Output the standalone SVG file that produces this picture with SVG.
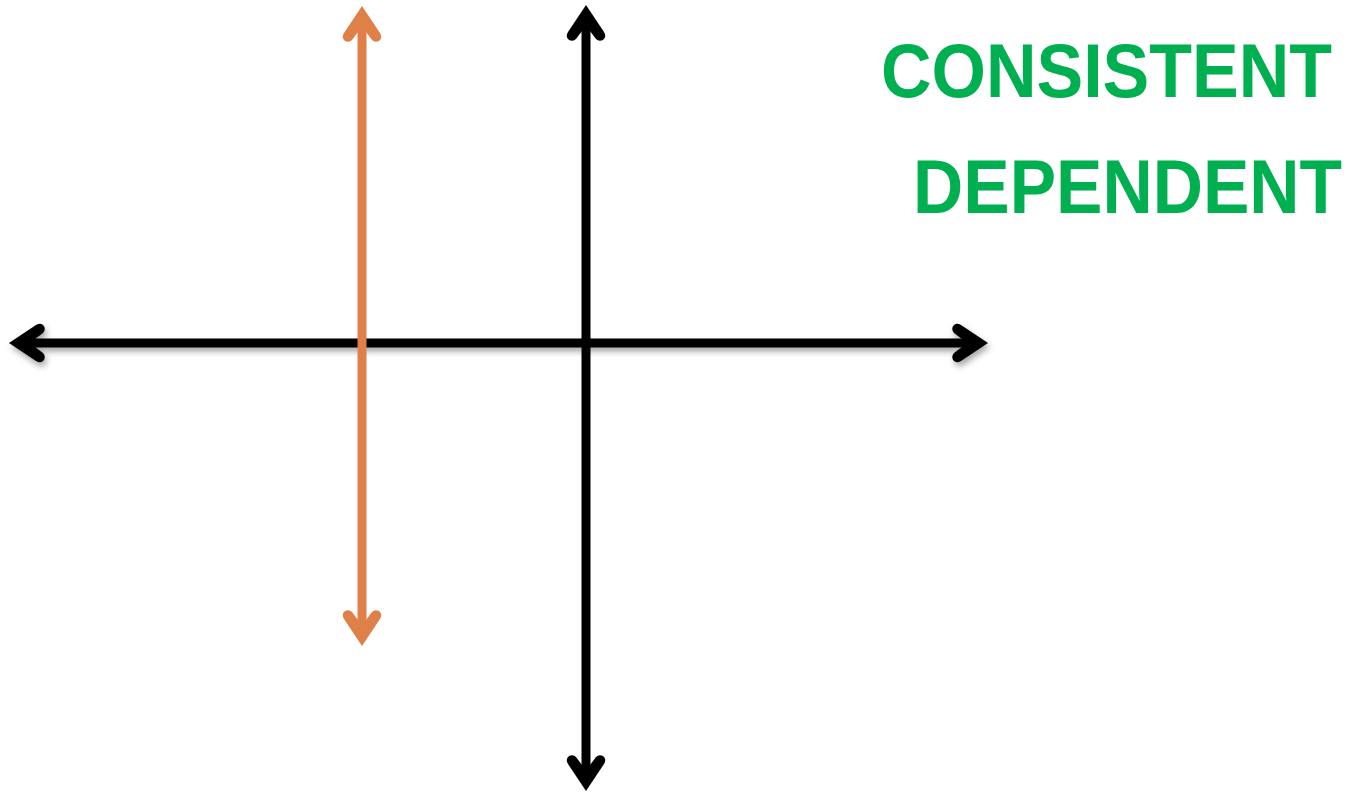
<svg xmlns="http://www.w3.org/2000/svg" xmlns:xlink="http://www.w3.org/1999/xlink" width="1348" height="792" viewBox="0 0 1348 792">
<style>
.ax{stroke:#000;stroke-width:9;fill:none}
.or{stroke:#DF8048;stroke-width:9;fill:none}
.lbl{font-family:"Liberation Sans",Arial,sans-serif;font-weight:bold;font-size:76px;fill:#00B050}
</style>
<defs>
<path id="head" d="M0,0 L18,27 Q21,32 17,35 Q13,37 10,34 L4,26 L-4,26 L-10,34 Q-13,37 -17,35 Q-21,32 -18,27 Z"/>
<filter id="sh" x="-5%" y="-50%" width="110%" height="200%">
<feDropShadow dx="2" dy="4" stdDeviation="3" flood-color="#000" flood-opacity="0.35"/>
</filter>
</defs>
<rect width="1348" height="792" fill="#fff"/>
<g id="connectors">
<g id="x-axis" filter="url(#sh)">
<line class="ax" x1="22" y1="343" x2="975" y2="343"/>
<use xlink:href="#head" href="#head" fill="#000" transform="translate(9,343) rotate(-90)"/>
<use xlink:href="#head" href="#head" fill="#000" transform="translate(988,343) rotate(90)"/>
</g>
<g id="y-axis">
<line class="ax" x1="586" y1="18" x2="586" y2="778"/>
<use xlink:href="#head" href="#head" fill="#000" transform="translate(586,5)"/>
<use xlink:href="#head" href="#head" fill="#000" transform="translate(586,791) rotate(180)"/>
</g>
<g id="orange-line">
<line class="or" x1="362" y1="18" x2="362" y2="633"/>
<use xlink:href="#head" href="#head" fill="#DF8048" transform="translate(362,6)"/>
<use xlink:href="#head" href="#head" fill="#DF8048" transform="translate(362,646) rotate(180)"/>
</g>
</g>
<g id="label">
<text class="lbl" x="881" y="97" textLength="451" lengthAdjust="spacingAndGlyphs">CONSISTENT</text>
<text class="lbl" x="913" y="213" textLength="429" lengthAdjust="spacingAndGlyphs">DEPENDENT</text>
</g>
</svg>
